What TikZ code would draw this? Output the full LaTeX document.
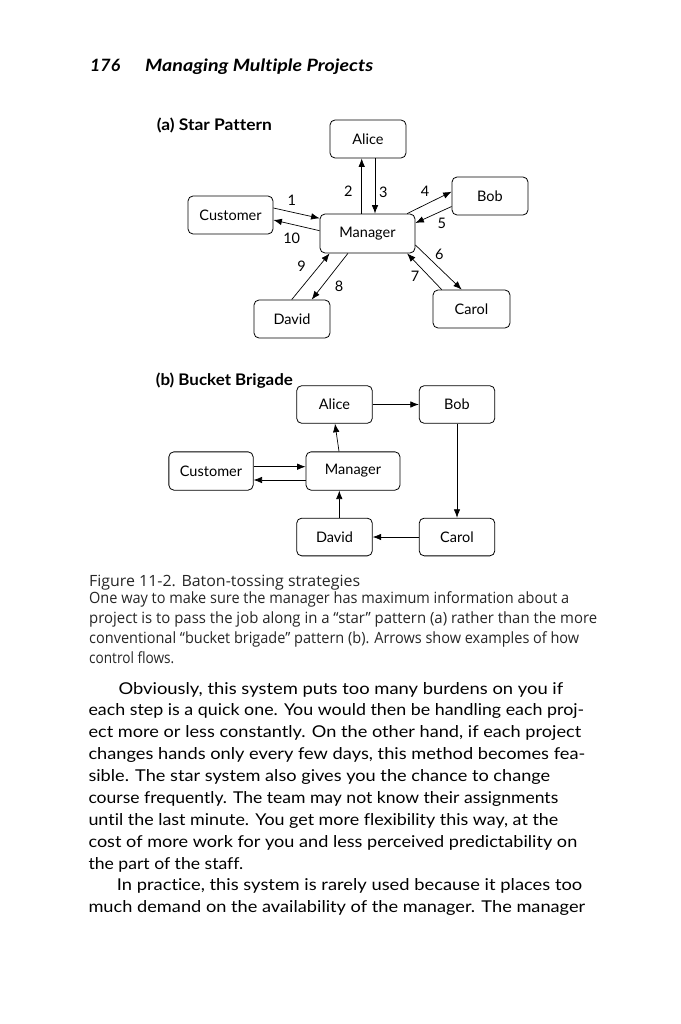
\documentclass[tikz,border=0pt]{standalone}
\usepackage{fontspec}
\usepackage{graphicx}
\setmainfont{Lato}[Ligatures=NoCommon]
\newfontfamily\capfont{Open Sans}
\usetikzlibrary{calc,arrows.meta}
\newcommand{\fitline}[2]{\resizebox{#1pt}{\height}{#2}}
\begin{document}
\begin{tikzpicture}[x=1pt,y=-1pt,
 bx/.style={draw, rounded corners=5pt, line width=0.8pt, inner sep=0pt, font=\fontsize{14.5}{16}\selectfont},
 arr/.style={-{Latex[length=8.5pt,width=6.5pt]}, line width=0.7pt},
 numlbl/.style={font=\fontsize{14.5}{16}\selectfont, inner sep=0pt},
 ttl/.style={font=\fontsize{16}{18}\selectfont\bfseries, anchor=west, inner sep=0pt},
 hd/.style={anchor=base west, inner sep=0pt, font=\fontsize{17}{20}\selectfont\bfseries\itshape},
 bodyline/.style={anchor=base west, inner sep=0pt, font=\fontsize{16.3}{20}\selectfont},
 capline/.style={anchor=base west, inner sep=0pt, font=\capfont\fontsize{15.5}{18}\selectfont, text=black!85},
]
\useasboundingbox (0,0) rectangle (680,1024);
\fill[white] (0,0) rectangle (680,1024);

% header
\node[hd] (pgno) at (90,72) {\fitline{30}{176}};
\node[hd] (runhead) at (145,72) {\fitline{228}{Managing Multiple Projects}};

% (a) star pattern
\node[ttl] (ta) at (156.7,125) {\fitline{115}{(a) Star Pattern}};
\node[bx, minimum width=76pt, minimum height=38pt] (sAlice) at (368,139) {Alice};
\node[bx, minimum width=76pt, minimum height=38pt] (sBob) at (490,196) {Bob};
\node[bx, minimum width=85pt, minimum height=38pt] (sCust) at (230.5,215) {Customer};
\node[bx, minimum width=95pt, minimum height=39pt] (sMgr) at (367.5,233.5) {Manager};
\node[bx, minimum width=77pt, minimum height=38pt] (sCarol) at (471.5,309) {Carol};
\node[bx, minimum width=76pt, minimum height=38pt] (sDavid) at (292,319) {David};

\draw[arr] ($(sMgr.north)+(-5.8,0)$) -- ($(sAlice.south)+(-6.3,0)$);
\draw[arr] ($(sAlice.south)+(7,0)$) -- ($(sMgr.north)+(7.5,0)$);
\draw[arr] ($(sMgr.north east)+(-8.3,0)$) -- ($(sBob.west)+(0,-4.3)$);
\draw[arr] ($(sBob.west)+(0,10.5)$) -- ($(sMgr.east)+(0,-10.5)$);
\draw[arr] ($(sCust.east)+(0,-7)$) -- ($(sMgr.west)+(0,-15.2)$);
\draw[arr] ($(sMgr.west)+(0,-2.8)$) -- ($(sCust.east)+(0,5)$);
\draw[arr] ($(sMgr.east)+(0,11.5)$) -- ($(sCarol.north)+(-9.8,0)$);
\draw[arr] ($(sCarol.north)+(-29.8,0)$) -- ($(sMgr.south east)+(-8.3,0)$);
\draw[arr] ($(sDavid.north)+(-0.3,0)$) -- ($(sMgr.south west)+(10,0)$);
\draw[arr] ($(sMgr.south west)+(28.3,0)$) -- ($(sDavid.north)+(19.7,0)$);

\node[numlbl] (n1) at (291.7,200) {1};
\node[numlbl] (n2) at (348.3,191.7) {2};
\node[numlbl] (n3) at (383.3,192) {3};
\node[numlbl] (n4) at (425,191.7) {4};
\node[numlbl] (n5) at (441.7,223) {5};
\node[numlbl] (n10) at (291.7,238.3) {10};
\node[numlbl] (n6) at (439.3,254) {6};
\node[numlbl] (n7) at (415,276.7) {7};
\node[numlbl] (n9) at (301.7,266) {9};
\node[numlbl] (n8) at (339,286.7) {8};

% (b) bucket brigade
\node[ttl] (tb) at (155.7,381) {\fitline{137}{(b) Bucket Brigade}};
\node[bx, minimum width=75.6pt, minimum height=37.6pt] (bAlice) at (334.5,404.5) {Alice};
\node[bx, minimum width=75.6pt, minimum height=37.6pt] (bBob) at (457,404.5) {Bob};
\node[bx, minimum width=84.3pt, minimum height=38.3pt] (bCust) at (211,471) {Customer};
\node[bx, minimum width=94pt, minimum height=38.3pt] (bMgr) at (353,471) {Manager};
\node[bx, minimum width=75.6pt, minimum height=37.7pt] (bDavid) at (334.5,537) {David};
\node[bx, minimum width=75.6pt, minimum height=37.7pt] (bCarol) at (457,537) {Carol};

\draw[arr] (bAlice.east) -- (bBob.west);
\draw[arr] (bBob.south) -- (bCarol.north);
\draw[arr] (bCarol.west) -- (bDavid.east);
\draw[arr] ($(bDavid.north)+(4.8,0)$) -- ($(bMgr.south)+(-13.7,0)$);
\draw[arr] ($(bMgr.north)+(-14,0)$) -- ($(bAlice.south)+(0.5,0)$);
\draw[arr] ($(bCust.east)+(0,-4.3)$) -- ($(bMgr.west)+(0,-4.3)$);
\draw[arr] ($(bMgr.west)+(0,9)$) -- ($(bCust.east)+(0,9)$);

% caption
\node[capline] (c1) at (89,586) {\fitline{271}{Figure 11-2. Baton-tossing strategies}};
\node[capline] (c2) at (89,603) {\fitline{480}{One way to make sure the manager has maximum information about a}};
\node[capline] (c3) at (89,623.2) {\fitline{508}{project is to pass the job along in a “star” pattern (a) rather than the more}};
\node[capline] (c4) at (89,643.4) {\fitline{490}{conventional “bucket brigade” pattern (b). Arrows show examples of how}};
\node[capline] (c5) at (89,663.6) {\fitline{85}{control flows.}};

% body text
\node[bodyline] (l1) at (118.3,694) {\fitline{444.7}{Obviously, this system puts too many burdens on you if}};
\node[bodyline] (l2) at (88.3,715.9) {\fitline{495.7}{each step is a quick one. You would then be handling each proj-}};
\node[bodyline] (l3) at (88.3,737.7) {\fitline{492.7}{ect more or less constantly. On the other hand, if each project}};
\node[bodyline] (l4) at (88.3,759.6) {\fitline{496.7}{changes hands only every few days, this method becomes fea-}};
\node[bodyline] (l5) at (88.3,781.5) {\fitline{461.7}{sible. The star system also gives you the chance to change}};
\node[bodyline] (l6) at (88.3,803.4) {\fitline{469.7}{course frequently. The team may not know their assignments}};
\node[bodyline] (l7) at (88.3,825.2) {\fitline{469.7}{until the last minute. You get more flexibility this way, at the}};
\node[bodyline] (l8) at (88.3,847.1) {\fitline{488.7}{cost of more work for you and less perceived predictability on}};
\node[bodyline] (l9) at (88.3,869) {\fitline{154.7}{the part of the staff.}};
\node[bodyline] (l10) at (116.7,890.8) {\fitline{465.3}{In practice, this system is rarely used because it places too}};
\node[bodyline] (l11) at (88.3,912.7) {\fitline{496.7}{much demand on the availability of the manager. The manager}};
\end{tikzpicture}
\end{document}
